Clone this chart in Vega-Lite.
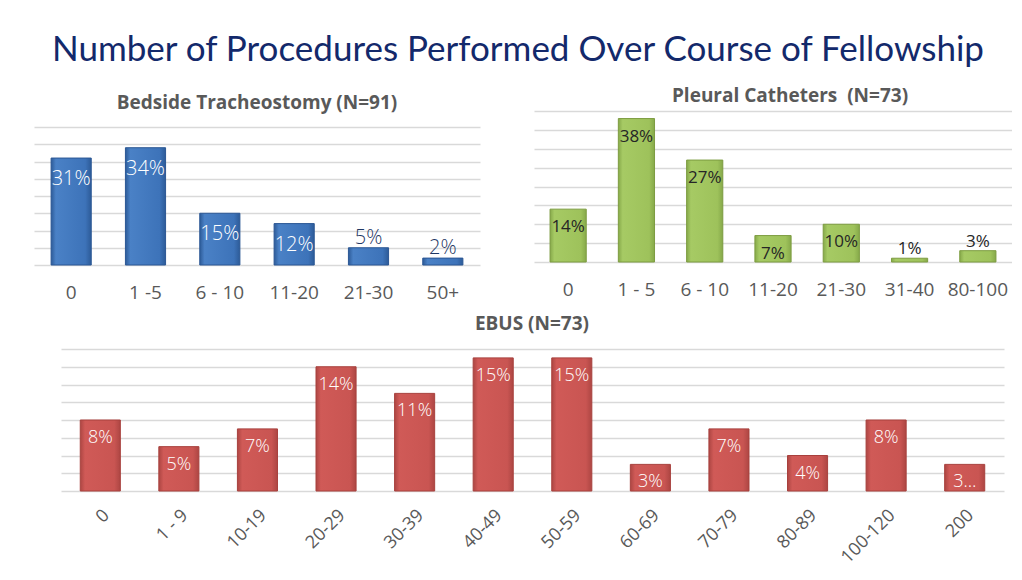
{
  "$schema": "https://vega.github.io/schema/vega-lite/v6.json",
  "background": "white",
  "padding": {"left": 34, "top": 33, "right": 0, "bottom": 0},
  "title": {"text": "Number of Procedures Performed Over Course of Fellowship", "font": "Lato", "fontWeight": 400, "fontSize": 35, "color": "#13296b", "anchor": "middle", "offset": 19, "dx": -5},
  "config": {
    "view": {"stroke": null},
    "axisX": {"title": null, "labelAngle": 0, "ticks": false, "domain": false, "grid": false, "labelColor": "#595959", "labelFont": "Open Sans", "labelFontSize": 19, "labelPadding": 18, "labelOverlap": false, "labelLimit": 200},
    "axisY": {"title": null, "labels": false, "ticks": false, "domain": false, "grid": true, "gridColor": "#d9d9d9", "gridWidth": 1.3},
    "title": {"font": "Open Sans", "fontWeight": "bold", "fontSize": 19, "color": "#595959"}
  },
  "spacing": 13,
  "vconcat": [
    {
      "spacing": 54,
      "hconcat": [
        {
          "width": 446, "height": 154,
          "title": {"text": "Bedside Tracheostomy (N=91)", "offset": -2},
          "data": {"values": [
            {"cat": "0", "pct": 0.31},
            {"cat": "1 -5", "pct": 0.34},
            {"cat": "6 - 10", "pct": 0.15},
            {"cat": "11-20", "pct": 0.12},
            {"cat": "21-30", "pct": 0.05},
            {"cat": "50+", "pct": 0.02}
          ]},
          "encoding": {
            "x": {"field": "cat", "type": "nominal", "sort": null, "scale": {"paddingInner": 0.46, "paddingOuter": 0.23}},
            "y": {"field": "pct", "type": "quantitative", "scale": {"domain": [0, 0.4464], "nice": false}, "axis": {"values": [0, 0.05, 0.1, 0.15, 0.2, 0.25, 0.3, 0.35, 0.4]}}
          },
          "layer": [
            {"mark": {"type": "bar", "stroke": "#2b5794", "strokeWidth": 1, "color": {"gradient": "linear", "x1": 0, "y1": 0, "x2": 1, "y2": 0, "stops": [{"offset": 0, "color": "#2d5b98"}, {"offset": 0.12, "color": "#4a81c6"}, {"offset": 0.85, "color": "#3d73b9"}, {"offset": 1, "color": "#2d5b98"}]}}},
            {"transform": [{"filter": "datum.pct >= 0.1"}], "mark": {"type": "text", "baseline": "middle", "dy": 21, "color": "white", "font": "Open Sans", "fontWeight": 300, "fontSize": 20}, "encoding": {"text": {"field": "pct", "format": ".0%"}}},
            {"transform": [{"filter": "datum.pct < 0.1"}], "mark": {"type": "text", "baseline": "middle", "dy": -10, "color": "#1F3864", "font": "Open Sans", "fontWeight": 300, "fontSize": 20}, "encoding": {"text": {"field": "pct", "format": ".0%"}}}
          ]
        },
        {
          "width": 478, "height": 151,
          "title": {"text": "Pleural Catheters\u00a0 (N=73)", "offset": 5, "dx": 17},
          "data": {"values": [
            {"cat": "0", "pct": 0.14},
            {"cat": "1 - 5", "pct": 0.38},
            {"cat": "6 - 10", "pct": 0.27},
            {"cat": "11-20", "pct": 0.07},
            {"cat": "21-30", "pct": 0.10},
            {"cat": "31-40", "pct": 0.01},
            {"cat": "80-100", "pct": 0.03}
          ]},
          "encoding": {
            "x": {"field": "cat", "type": "nominal", "sort": null, "scale": {"paddingInner": 0.47, "paddingOuter": 0.235}},
            "y": {"field": "pct", "type": "quantitative", "scale": {"domain": [0, 0.4]}, "axis": {"values": [0, 0.05, 0.1, 0.15, 0.2, 0.25, 0.3, 0.35, 0.4]}}
          },
          "layer": [
            {"mark": {"type": "bar", "stroke": "#7d9c40", "strokeWidth": 1, "color": {"gradient": "linear", "x1": 0, "y1": 0, "x2": 1, "y2": 0, "stops": [{"offset": 0, "color": "#86a94a"}, {"offset": 0.12, "color": "#a6ca64"}, {"offset": 0.85, "color": "#9ec25b"}, {"offset": 1, "color": "#86a94a"}]}}},
            {"transform": [{"filter": "datum.pct >= 0.07"}], "mark": {"type": "text", "baseline": "middle", "dy": 18, "color": "#262626", "font": "Open Sans", "fontWeight": 400, "fontSize": 17}, "encoding": {"text": {"field": "pct", "format": ".0%"}}},
            {"transform": [{"filter": "datum.pct < 0.07"}], "mark": {"type": "text", "baseline": "middle", "dy": -9, "color": "#262626", "font": "Open Sans", "fontWeight": 400, "fontSize": 17}, "encoding": {"text": {"field": "pct", "format": ".0%"}}}
          ]
        }
      ]
    },
    {
      "width": 970, "height": 142,
      "title": {"text": "EBUS (N=73)", "offset": 15, "dx": 13},
      "data": {"values": [
        {"cat": "0", "pct": 0.08, "label": "8%"},
        {"cat": "1 - 9", "pct": 0.05, "label": "5%"},
        {"cat": "10-19", "pct": 0.07, "label": "7%"},
        {"cat": "20-29", "pct": 0.14, "label": "14%"},
        {"cat": "30-39", "pct": 0.11, "label": "11%"},
        {"cat": "40-49", "pct": 0.15, "label": "15%"},
        {"cat": "50-59", "pct": 0.15, "label": "15%"},
        {"cat": "60-69", "pct": 0.03, "label": "3%"},
        {"cat": "70-79", "pct": 0.07, "label": "7%"},
        {"cat": "80-89", "pct": 0.04, "label": "4%"},
        {"cat": "100-120", "pct": 0.08, "label": "8%"},
        {"cat": "200", "pct": 0.03, "label": "3…"}
      ]},
      "encoding": {
        "x": {"field": "cat", "type": "nominal", "sort": null, "scale": {"range": [27, 970], "paddingInner": 0.49, "paddingOuter": 0.245}, "axis": {"labelAngle": -45, "labelFontSize": 18, "labelPadding": 15}},
        "y": {"field": "pct", "type": "quantitative", "scale": {"domain": [0, 0.16]}, "axis": {"values": [0, 0.02, 0.04, 0.06, 0.08, 0.1, 0.12, 0.14, 0.16]}}
      },
      "layer": [
        {"mark": {"type": "bar", "stroke": "#a8403d", "strokeWidth": 1, "color": {"gradient": "linear", "x1": 0, "y1": 0, "x2": 1, "y2": 0, "stops": [{"offset": 0, "color": "#ad4643"}, {"offset": 0.12, "color": "#d05a57"}, {"offset": 0.85, "color": "#c95552"}, {"offset": 1, "color": "#ad4643"}]}}},
        {"mark": {"type": "text", "baseline": "middle", "dy": 18, "color": "white", "font": "Open Sans", "fontWeight": 300, "fontSize": 18}, "encoding": {"text": {"field": "label"}}}
      ]
    }
  ]
}
